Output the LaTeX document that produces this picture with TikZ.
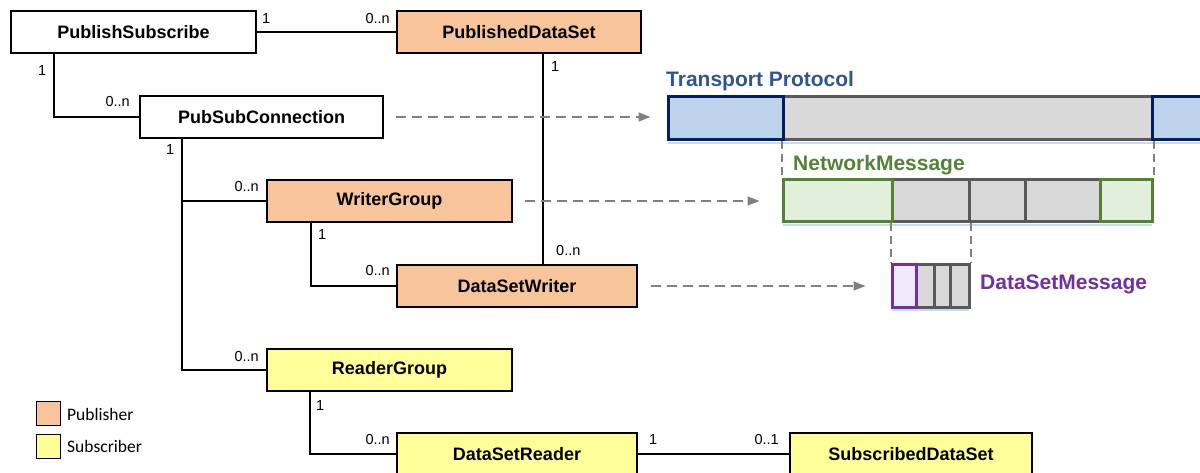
\documentclass[tikz,border=0pt]{standalone}
\usepackage{fontspec}
\setmainfont{Liberation Sans}
\newfontfamily\legfont{Carlito}
\usetikzlibrary{arrows.meta}
\definecolor{pubfill}{RGB}{248,197,155}
\definecolor{subfill}{RGB}{255,255,153}
\definecolor{flowgray}{RGB}{128,128,128}
\definecolor{tpfill}{RGB}{189,210,235}
\definecolor{tpline}{RGB}{0,32,96}
\definecolor{tptext}{RGB}{47,85,151}
\definecolor{cellfill}{RGB}{217,217,217}
\definecolor{cellline}{RGB}{89,89,89}
\definecolor{nmline}{RGB}{84,130,53}
\definecolor{nmfill}{RGB}{226,239,218}
\definecolor{dsline}{RGB}{112,48,160}
\definecolor{dsfill}{RGB}{242,232,252}
\definecolor{shadowblue}{RGB}{200,220,240}
\begin{document}
\begin{tikzpicture}[x=1pt,y=-1pt,
  cls/.style={draw=black, line width=1.3pt, minimum height=42pt, inner sep=0pt, font=\bfseries\fontsize{18}{20}\selectfont},
  pub/.style={cls, fill=pubfill},
  sub/.style={cls, fill=subfill},
  mult/.style={font=\fontsize{14.5}{16}\selectfont, inner sep=0pt},
  assoc/.style={line width=1.3pt},
  flow/.style={draw=flowgray, line width=1.5pt, dash pattern=on 10pt off 6pt, -{Triangle[length=12pt,width=9pt]}},
  guide/.style={draw=flowgray, line width=2pt, dash pattern=on 8pt off 5pt},
  cell/.style={draw=cellline, fill=cellfill, line width=3pt, inner sep=0pt},
  tpcell/.style={cell, draw=tpline, fill=tpfill},
  nmcell/.style={cell, draw=nmline, fill=nmfill},
  dscell/.style={cell, draw=dsline, fill=dsfill},
  title/.style={font=\bfseries\fontsize{21}{24}\selectfont, inner sep=0pt},
  legbox/.style={draw=black, line width=0.9pt, minimum width=24pt, minimum height=24pt, inner sep=0pt},
  legtext/.style={font=\legfont\fontsize{17.5}{19}\selectfont, inner sep=0pt}
]
\useasboundingbox (0,0) rectangle (1200,473);

% ---------- class boxes ----------
\node[cls, minimum width=245pt] (ps) at (133.5,32) {PublishSubscribe};
\node[pub, minimum width=244pt] (pds) at (519,32) {PublishedDataSet};
\node[cls, minimum width=243pt] (psc) at (261.5,117) {PubSubConnection};
\node[pub, minimum width=245pt] (wg) at (389.5,201) {WriterGroup};
\node[pub, minimum width=240pt] (dsw) at (517,286) {DataSetWriter};
\node[sub, minimum width=245pt] (rg) at (389.5,370) {ReaderGroup};
\node[sub, minimum width=240pt] (dsr) at (517,454) {DataSetReader};
\node[sub, minimum width=242pt] (sds) at (911,454) {SubscribedDataSet};

% ---------- associations ----------
\draw[assoc] (ps.east) -- (pds.west);
\draw[assoc] ([xshift=-79.5pt]ps.south) |- (psc.west);
\draw[assoc] ([xshift=24pt]pds.south) -- ([xshift=24pt]pds.south |- dsw.north);
\draw[assoc] ([xshift=-79.5pt]psc.south) coordinate (pscdown) |- (rg.west);
\draw[assoc] (wg.west) -- (wg.west -| pscdown);
\draw[assoc] ([xshift=-78.5pt]wg.south) |- (dsw.west);
\draw[assoc] ([xshift=-79.5pt]rg.south) |- (dsr.west);
\draw[assoc] (dsr.east) -- (sds.west);

% ---------- multiplicities ----------
\node[mult, anchor=base west] (m1) at (262,24) {1};
\node[mult, anchor=base east] (m2) at (390,24) {0..n};
\node[mult, anchor=base west] (m3) at (38,76) {1};
\node[mult, anchor=base east] (m4) at (130,107) {0..n};
\node[mult, anchor=base west] (m5) at (551,72) {1};
\node[mult, anchor=base west] (m6) at (166,155) {1};
\node[mult, anchor=base east] (m7) at (259,192) {0..n};
\node[mult, anchor=base west] (m8) at (318,240) {1};
\node[mult, anchor=base east] (m9) at (390,276) {0..n};
\node[mult, anchor=base west] (m10) at (556,255) {0..n};
\node[mult, anchor=base east] (m11) at (259,361) {0..n};
\node[mult, anchor=base west] (m12) at (316,410) {1};
\node[mult, anchor=base east] (m13) at (390,444) {0..n};
\node[mult, anchor=base west] (m14) at (649,444) {1};
\node[mult, anchor=base east] (m15) at (779,444) {0..1};

% ---------- legend ----------
\node[legbox, fill=pubfill] (lp) at (48,413) {};
\node[legbox, fill=subfill] (ls) at (48,446) {};
\node[legtext, anchor=west] (lpt) at (67,414) {Publisher};
\node[legtext, anchor=west] (lst) at (67,446) {Subscriber};

% ---------- transport protocol ----------
\draw[shadowblue, line width=2pt] (668,143) -- (1200,143);
\node[cell, minimum width=369pt, minimum height=43pt] (tp2) at (967.5,118.5) {};
\node[tpcell, minimum width=115pt, minimum height=43pt] (tp1) at (725.5,118.5) {};
\node[tpcell, minimum width=100pt, minimum height=43pt] (tp3) at (1202,118.5) {};
\node[title, text=tptext, anchor=base west] (tpt) at (666,87) {Transport Protocol};

% ---------- network message ----------
\draw[shadowblue, line width=2pt] (783,225) -- (1152,225);
\node[cell, minimum width=77pt, minimum height=42pt] (nm2) at (930.5,201) {};
\node[cell, minimum width=56pt, minimum height=42pt] (nm3) at (997,201) {};
\node[cell, minimum width=75pt, minimum height=42pt] (nm4) at (1062.5,201) {};
\node[nmcell, minimum width=109pt, minimum height=42pt] (nm1) at (837.5,201) {};
\node[nmcell, minimum width=52pt, minimum height=42pt] (nm5) at (1126,201) {};
\node[title, text=nmline, anchor=base west] (nmt) at (793,171) {NetworkMessage};

% ---------- dataset message ----------
\draw[shadowblue, line width=2pt] (892,310) -- (969,310);
\node[cell, minimum width=18pt, minimum height=42pt] (ds2) at (925,286) {};
\node[cell, minimum width=16pt, minimum height=42pt] (ds3) at (942,286) {};
\node[cell, minimum width=19pt, minimum height=42pt] (ds4) at (959.5,286) {};
\node[dscell, minimum width=24pt, minimum height=42pt] (ds1) at (904,286) {};
\node[title, text=dsline, anchor=base west] (dst) at (980,290) {DataSetMessage};

% ---------- guides ----------
\draw[guide] (tp2.south west) -- (nm1.north west);
\draw[guide] (tp2.south east) -- (nm5.north east);
\draw[guide] (nm2.south west) -- (ds1.north west);
\draw[guide] (nm2.south east) -- (ds4.north east);

% ---------- flows ----------
\draw[flow] ([xshift=12pt]psc.east) -- ([xshift=-16pt]psc.east -| tp1.west);
\draw[flow] ([xshift=12pt]wg.east) -- ([xshift=-22pt]nm1.west);
\draw[flow] ([xshift=13pt]dsw.east) -- ([xshift=-25pt]ds1.west);
\end{tikzpicture}
\end{document}
